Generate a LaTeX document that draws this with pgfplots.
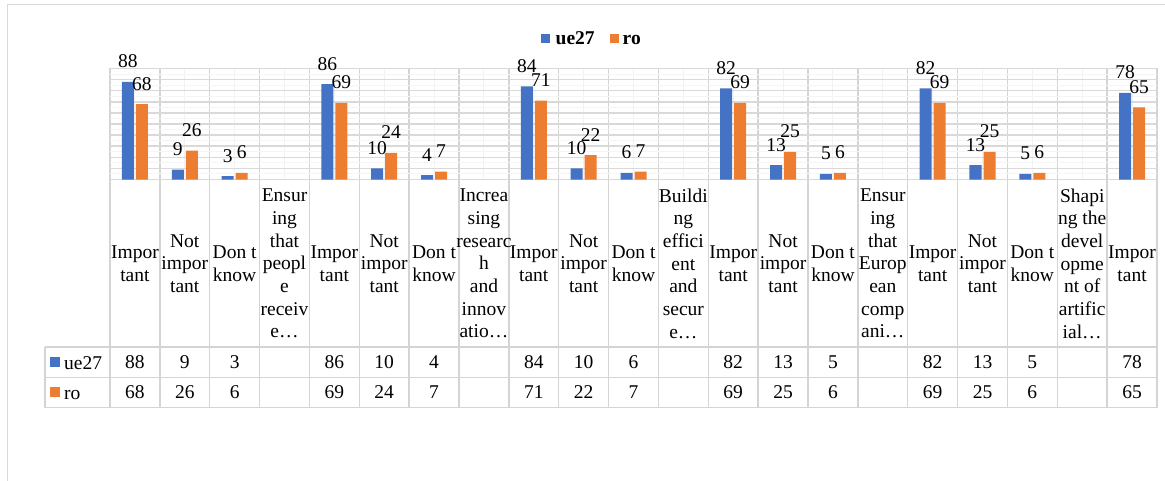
\documentclass[border=0pt]{standalone}
\usepackage{pgfplots}
\pgfplotsset{compat=1.18}
\usepackage{fontspec}
\setmainfont{Liberation Serif}
\definecolor{cblue}{HTML}{4472C4}
\definecolor{corange}{HTML}{ED7D31}
\definecolor{gridc}{HTML}{D9D9D9}
\definecolor{tablec}{HTML}{D4D4D4}
\newcommand{\cf}{\fontsize{19.5}{22.7}\selectfont}
\begin{document}
\begin{tikzpicture}[x=1pt,y=1pt]
\path[use as bounding box] (0,0) rectangle (1165,480);
% outer frame
\draw[gridc, line width=1.3pt] (7.3,-2) -- (7.3,475.3) -- (1168,475.3);
% faint vertical grid at category centres
\foreach \k in {0,...,20} {
  \draw[gray!10, line width=1pt] ({110+(\k+0.5)*49.857},300.5) -- ({110+(\k+0.5)*49.857},411.5);
}
% category boundaries (grid + table)
\foreach \k in {0,...,21} {
  \draw[tablec, line width=1.5pt] ({110+\k*49.857},72.5) -- ({110+\k*49.857},411.5);
}
% table horizontal lines
\draw[tablec, line width=1.5pt] (110,300.5) -- (1157,300.5);
\draw[tablec, line width=1.5pt] (45,133) -- (1157,133);
\draw[tablec, line width=1.5pt] (45,102.5) -- (1157,102.5);
\draw[tablec, line width=1.5pt] (45,72.5) -- (1157,72.5);
\draw[tablec, line width=1.5pt] (45,72.5) -- (45,133);
% legend
\fill[cblue] (541,437) rectangle (550,446);
\node[font=\cf\bfseries, anchor=base west, inner sep=0pt] at (555.5,435) {ue27};
\fill[corange] (609.5,437) rectangle (618.5,446);
\node[font=\cf\bfseries, anchor=base west, inner sep=0pt] at (622.5,435) {ro};
% table row keys
\fill[cblue] (50,112.7) rectangle (60,122.7);
\node[font=\cf, anchor=base west, inner sep=0pt] at (64,111) {ue27};
\fill[corange] (50,83) rectangle (60,93);
\node[font=\cf, anchor=base west, inner sep=0pt] at (64,81) {ro};
% table values
\foreach \x/\v in {0/88,1/9,2/3,4/86,5/10,6/4,8/84,9/10,10/6,12/82,13/13,14/5,16/82,17/13,18/5,20/78} {
  \node[font=\cf, inner sep=0pt] at ({110+(\x+0.5)*49.857},117.5) {\v};
}
\foreach \x/\v in {0/68,1/26,2/6,4/69,5/24,6/7,8/71,9/22,10/7,12/69,13/25,14/6,16/69,17/25,18/6,20/65} {
  \node[font=\cf, inner sep=0pt] at ({110+(\x+0.5)*49.857},87.5) {\v};
}
\begin{axis}[
  at={(110pt,300.5pt)}, anchor=south west,
  scale only axis, width=1047pt, height=111pt,
  xmin=-0.5, xmax=20.5, ymin=0, ymax=100,
  ybar=2pt, bar width=12pt,
  xtick={0,...,20},
  xticklabels={{Impor\\tant},{Not\\impor\\tant},{Don t\\know},{Ensur\\ing\\that\\peopl\\e\\receiv\\e…},
    {Impor\\tant},{Not\\impor\\tant},{Don t\\know},{Increa\\sing\\researc\\h\\and\\innov\\atio…},
    {Impor\\tant},{Not\\impor\\tant},{Don t\\know},{Buildi\\ng\\effici\\ent\\and\\secur\\e…},
    {Impor\\tant},{Not\\impor\\tant},{Don t\\know},{Ensur\\ing\\that\\Europ\\ean\\comp\\ani…},
    {Impor\\tant},{Not\\impor\\tant},{Don t\\know},{Shapi\\ng the\\devel\\opme\\nt of\\artific\\ial…},
    {Impor\\tant}},
  xticklabel style={font=\cf, align=center, anchor=center, yshift=-84pt, inner sep=0pt},
  major tick length=0pt, minor tick length=0pt,
  ytick={0,10,...,100}, yticklabels={},
  ymajorgrids, minor y tick num=1, yminorgrids,
  major grid style={gridc, line width=1.5pt},
  minor grid style={gray!8, line width=1pt},
  axis line style={draw=none},
  clip=false,
  nodes near coords,
  nodes near coords style={font=\cf, anchor=base, yshift=14pt, inner sep=0pt},
  /pgf/number format/assume math mode=true,
]
\addplot[fill=cblue, draw=none] coordinates {(0,88)(1,9)(2,3)(4,86)(5,10)(6,4)(8,84)(9,10)(10,6)(12,82)(13,13)(14,5)(16,82)(17,13)(18,5)(20,78)};
\addplot[fill=corange, draw=none] coordinates {(0,68)(1,26)(2,6)(4,69)(5,24)(6,7)(8,71)(9,22)(10,7)(12,69)(13,25)(14,6)(16,69)(17,25)(18,6)(20,65)};
\end{axis}
\end{tikzpicture}
\end{document}
